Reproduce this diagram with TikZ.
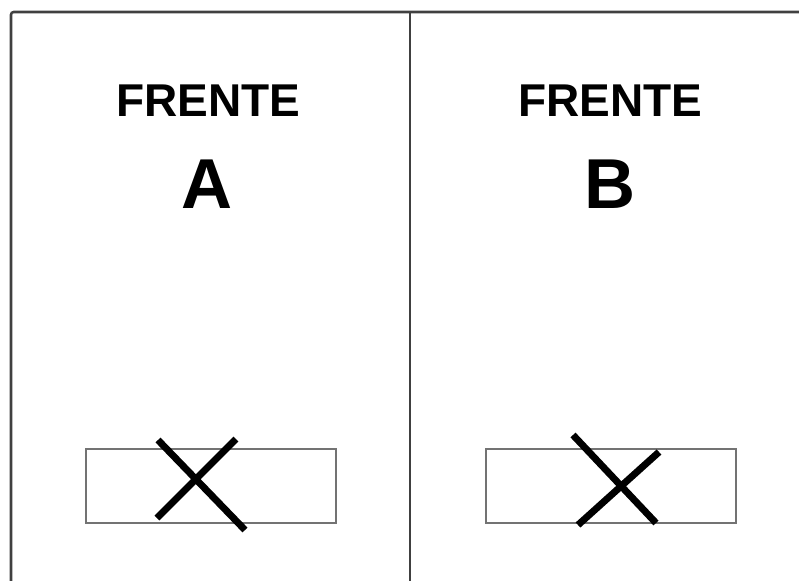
\documentclass[tikz,border=0pt]{standalone}
\usepackage{fontspec}
\setsansfont{Liberation Sans}
\usepackage{tikz}
\usetikzlibrary{positioning}
\definecolor{framegray}{gray}{0.25}
\definecolor{slotgray}{gray}{0.45}
\tikzset{
  panelframe/.style={draw=framegray, line width=1.9pt, rounded corners=2pt},
  slotbox/.style={draw=slotgray, line width=1.2pt, minimum width=187.5pt,
                  minimum height=55.5pt, inner sep=0pt},
  crossline/.style={black, line width=5.2pt},
  fronttitle/.style={font=\sffamily\bfseries\fontsize{34.5}{34.5}\selectfont,
                     anchor=base, inner sep=0pt},
  frontletter/.style={font=\sffamily\bfseries\fontsize{53}{53}\selectfont,
                      anchor=base, inner sep=0pt}
}

\begin{document}
\begin{tikzpicture}[x=0.75pt, y=-0.75pt]
    \useasboundingbox (0,0) rectangle (799,581);
    \clip (0,0) rectangle (799,581);

    % panels
    \draw[panelframe] (11,12) rectangle (840,620);
    \draw[framegray, line width=1.9pt] (410,12) -- (410,620);

    % labels
    \node[fronttitle] (titA) at (208,117) {FRENTE};
    \node[frontletter] (letA) at (207,208) {A};
    \node[fronttitle] (titB) at (610,117) {FRENTE};
    \node[frontletter] (letB) at (610,208) {B};

    % slots
    \node[slotbox] (slotA) at (211,486) {};
    \node[slotbox] (slotB) at (611,486) {};

    % crosses
    \draw[crossline] (158,440) -- (245,530);
    \draw[crossline] (157,518) -- (236,439);
    \draw[crossline] (573,435) -- (656,523);
    \draw[crossline] (578,525) -- (659,452);
\end{tikzpicture}
\end{document}
